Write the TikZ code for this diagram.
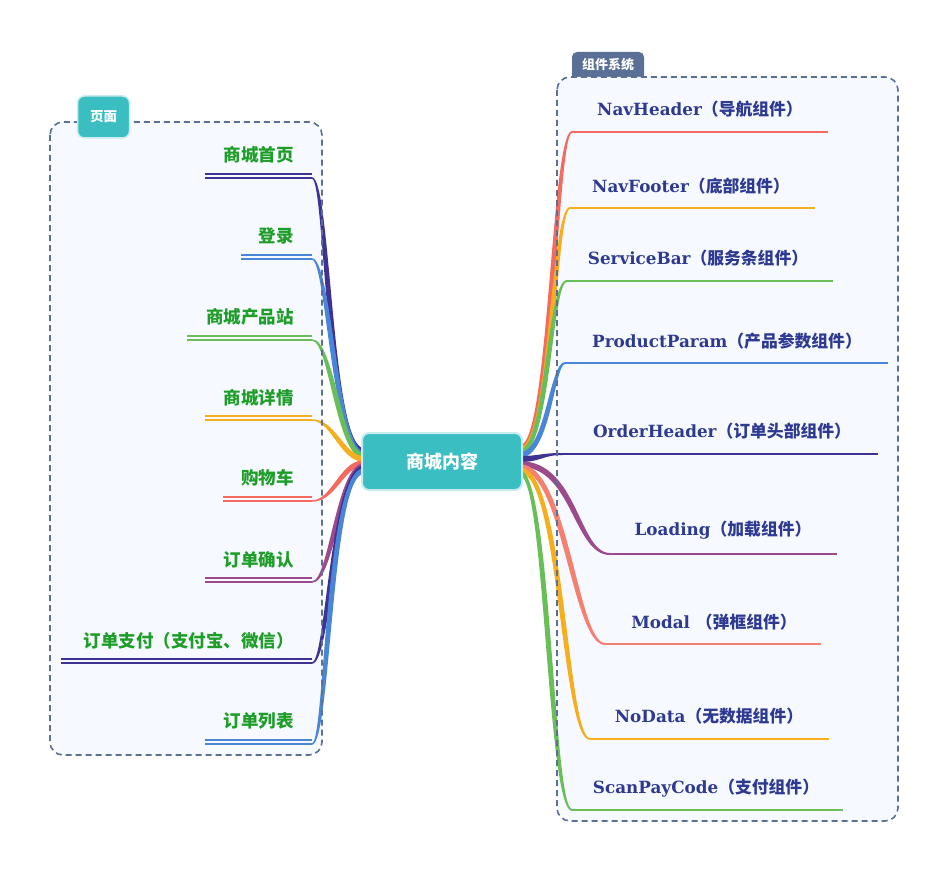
\documentclass[tikz,border=0pt]{standalone}
\usepackage{fontspec}
\usetikzlibrary{calc}
\newfontfamily\cjk{Noto Sans CJK SC}
\newfontfamily\latserif{DejaVu Serif}
\definecolor{txtgreen}{RGB}{30,158,40}
\definecolor{txtblue}{RGB}{46,58,145}
\definecolor{framestroke}{RGB}{92,112,150}
\definecolor{framefill}{RGB}{246,249,255}
\definecolor{teal}{RGB}{59,190,193}
\definecolor{teallight}{RGB}{200,236,238}
\definecolor{slate}{RGB}{90,111,150}
\definecolor{cindigo}{RGB}{62,50,146}
\definecolor{cblue}{RGB}{74,134,216}
\definecolor{cgreen}{RGB}{106,190,88}
\definecolor{corange}{RGB}{247,174,28}
\definecolor{cred}{RGB}{245,106,94}
\definecolor{csalmon}{RGB}{245,128,112}
\definecolor{cpurple}{RGB}{155,74,140}
% tapered connector: color, root coord, end coord, kR, kE, wR, wE, m
\newcommand{\taper}[8]{%
  \fill[#1] ($(#2)+(0,-#6)$) .. controls +({#4+(#8)},0) and +({#5+(#8)},0) .. ($(#3)+(0,-#7)$)
    -- ($(#3)+(0,#7)$) .. controls +({#5-(#8)},0) and +({#4-(#8)},0) .. ($(#2)+(0,#6)$) -- cycle;}
\newcommand{\rtxt}[2]{{\latserif\bfseries #1}{\cjk\bfseries #2}}
\tikzset{
  lefttxt/.style={anchor=east, text=txtgreen, inner sep=0pt, font=\cjk\bfseries\fontsize{17.5}{20}\selectfont},
  righttxt/.style={anchor=center, text=txtblue, inner sep=0pt, font=\fontsize{16.8}{20}\selectfont},
  dline/.style={line width=1.4pt},
  rline/.style={line width=2pt},
  frameborder/.style={draw=framestroke, line width=1.6pt, dash pattern=on 6pt off 4pt, rounded corners=13pt},
  rootbox/.style={fill=teal, draw=teallight, line width=2pt, rounded corners=7pt, minimum width=160pt, minimum height=57pt, text=white, font=\cjk\bfseries\fontsize{18}{20}\selectfont},
  tabone/.style={fill=teal, draw=teallight, line width=1.5pt, rounded corners=7pt, minimum width=52pt, minimum height=42pt, text=white, font=\cjk\bfseries\fontsize{13.5}{15}\selectfont},
  tabtxt/.style={text=white, inner sep=0pt, font=\cjk\bfseries\fontsize{13}{15}\selectfont}
}
\begin{document}
\begin{tikzpicture}[x=1pt,y=-1pt]
\useasboundingbox (0,0) rectangle (948,872);
\fill[white] (0,0) rectangle (948,872);
% tab of right frame (bottom hidden by frame fill)
\fill[slate, rounded corners=5pt] (572,52) rectangle (644,90);
% frame fills
\fill[framefill, rounded corners=13pt] (50,122) rectangle (322,755);
\fill[framefill, rounded corners=13pt] (557,77) rectangle (898,821);

% ---------------- left branches ----------------
\coordinate (R1) at (364,451); \coordinate (E1) at (312,178);
\coordinate (R2) at (364,454); \coordinate (E2) at (312,259);
\coordinate (R3) at (364,456); \coordinate (E3) at (312,340);
\coordinate (R4) at (364,459); \coordinate (E4) at (312,420);
\coordinate (R5) at (364,463); \coordinate (E5) at (312,501);
\coordinate (R6) at (364,466); \coordinate (E6) at (312,582);
\coordinate (R7) at (364,468); \coordinate (E7) at (312,663);
\coordinate (R8) at (364,471); \coordinate (E8) at (312,744);

\taper{cindigo}{R1}{E1}{-36}{16}{2.8}{0.75}{3.2}
\taper{cblue}{R2}{E2}{-29}{17}{2.8}{0.75}{3}
\taper{cgreen}{R3}{E3}{-25}{20}{2.8}{0.75}{2.8}
\taper{corange}{R4}{E4}{-22}{22}{2.8}{0.75}{2}
\taper{cred}{R5}{E5}{-22}{22}{2.8}{0.75}{-2}
\taper{cpurple}{R6}{E6}{-25}{20}{2.8}{0.75}{-2.8}
\taper{cindigo}{R7}{E7}{-31}{17}{2.8}{0.75}{-3}
\taper{cblue}{R8}{E8}{-36}{16}{2.8}{0.75}{-3.2}

\coordinate (S1) at (205,178); \coordinate (U1) at (205,174); \coordinate (V1) at (312,174);
\coordinate (S2) at (241,259); \coordinate (U2) at (241,255); \coordinate (V2) at (312,255);
\coordinate (S3) at (187,340); \coordinate (U3) at (187,336); \coordinate (V3) at (312,336);
\coordinate (S4) at (205,420); \coordinate (U4) at (205,416); \coordinate (V4) at (312,416);
\coordinate (S5) at (223,501); \coordinate (U5) at (223,497); \coordinate (V5) at (312,497);
\coordinate (S6) at (205,582); \coordinate (U6) at (205,578); \coordinate (V6) at (312,578);
\coordinate (S7) at (61,663);  \coordinate (U7) at (61,659);  \coordinate (V7) at (312,659);
\coordinate (S8) at (205,744); \coordinate (U8) at (205,740); \coordinate (V8) at (312,740);
\draw[dline,cindigo] (S1) -- (E1) (U1) -- (V1);
\draw[dline,cblue] (S2) -- (E2) (U2) -- (V2);
\draw[dline,cgreen] (S3) -- (E3) (U3) -- (V3);
\draw[dline,corange] (S4) -- (E4) (U4) -- (V4);
\draw[dline,cred] (S5) -- (E5) (U5) -- (V5);
\draw[dline,cpurple] (S6) -- (E6) (U6) -- (V6);
\draw[dline,cindigo] (S7) -- (E7) (U7) -- (V7);
\draw[dline,cblue] (S8) -- (E8) (U8) -- (V8);

\node[lefttxt] (L1) at (294,155) {商城首页};
\node[lefttxt] (L2) at (294,236) {登录};
\node[lefttxt] (L3) at (294,317) {商城产品站};
\node[lefttxt] (L4) at (294,398) {商城详情};
\node[lefttxt] (L5) at (294,478) {购物车};
\node[lefttxt] (L6) at (294,560) {订单确认};
\node[lefttxt] (L7) at (294,641) {订单支付（支付宝、微信）};
\node[lefttxt] (L8) at (294,721) {订单列表};

% ---------------- right branches ----------------
\coordinate (RR1) at (520,448); \coordinate (RE1) at (572,132); \coordinate (RF1) at (828,132);
\coordinate (RR2) at (520,450); \coordinate (RE2) at (570,208); \coordinate (RF2) at (815,208);
\coordinate (RR3) at (520,452); \coordinate (RE3) at (567,281); \coordinate (RF3) at (833,281);
\coordinate (RR4) at (520,455); \coordinate (RE4) at (565,363); \coordinate (RF4) at (888,363);
\coordinate (RR5) at (520,459); \coordinate (RE5) at (562,454); \coordinate (RF5) at (878,454);
\coordinate (RR6) at (520,464); \coordinate (RE6) at (610,554); \coordinate (RF6) at (837,554);
\coordinate (RR7) at (520,467); \coordinate (RE7) at (605,644); \coordinate (RF7) at (821,644);
\coordinate (RR8) at (520,470); \coordinate (RE8) at (590,739); \coordinate (RF8) at (829,739);
\coordinate (RR9) at (520,473); \coordinate (RE9) at (572,810); \coordinate (RF9) at (843,810);

\taper{cred}{RR1}{RE1}{32}{-18}{2.8}{1}{-3.2}
\taper{corange}{RR2}{RE2}{32}{-17}{2.8}{1}{-3}
\taper{cgreen}{RR3}{RE3}{28}{-18}{2.8}{1}{-2.8}
\taper{cblue}{RR4}{RE4}{28}{-13}{2.8}{1}{-2.6}
\taper{cindigo}{RR5}{RE5}{20}{-20}{3}{1}{-0.8}
\taper{cpurple}{RR6}{RE6}{55}{-34}{2.8}{1}{2.6}
\taper{csalmon}{RR7}{RE7}{45}{-30}{2.8}{1}{2.8}
\taper{corange}{RR8}{RE8}{42}{-26}{2.8}{1}{3}
\taper{cgreen}{RR9}{RE9}{28}{-22}{2.8}{1}{3.2}

\draw[rline,cred] (RE1) -- (RF1);
\draw[rline,corange] (RE2) -- (RF2);
\draw[rline,cgreen] (RE3) -- (RF3);
\draw[rline,cblue] (RE4) -- (RF4);
\draw[rline,cindigo] (RE5) -- (RF5);
\draw[rline,cpurple] (RE6) -- (RF6);
\draw[rline,csalmon] (RE7) -- (RF7);
\draw[rline,corange] (RE8) -- (RF8);
\draw[rline,cgreen] (RE9) -- (RF9);

\node[righttxt] (T1) at (700,109) {\rtxt{NavHeader}{（导航组件）}};
\node[righttxt] (T2) at (691,186) {\rtxt{NavFooter}{（底部组件）}};
\node[righttxt] (T3) at (698,258) {\rtxt{ServiceBar}{（服务条组件）}};
\node[righttxt] (T4) at (727,341) {\rtxt{ProductParam}{（产品参数组件）}};
\node[righttxt] (T5) at (722,431) {\rtxt{OrderHeader}{（订单头部组件）}};
\node[righttxt] (T6) at (723,530) {\rtxt{Loading}{（加载组件）}};
\node[righttxt] (T7) at (714,622) {\rtxt{Modal\ }{（弹框组件）}};
\node[righttxt] (T8) at (709,716) {\rtxt{NoData}{（无数据组件）}};
\node[righttxt] (T9) at (706,788) {\rtxt{ScanPayCode}{（支付组件）}};

% frame borders
\draw[frameborder] (50,122) rectangle (322,755);
\draw[frameborder] (557,77) rectangle (898,821);

% tabs
\node[tabone] (tabL) at (103.5,117) {页面};
\node[tabtxt] (tabR) at (608,64.5) {组件系统};

% root
\node[rootbox] (root) at (442,461.5) {商城内容};
\end{tikzpicture}
\end{document}
